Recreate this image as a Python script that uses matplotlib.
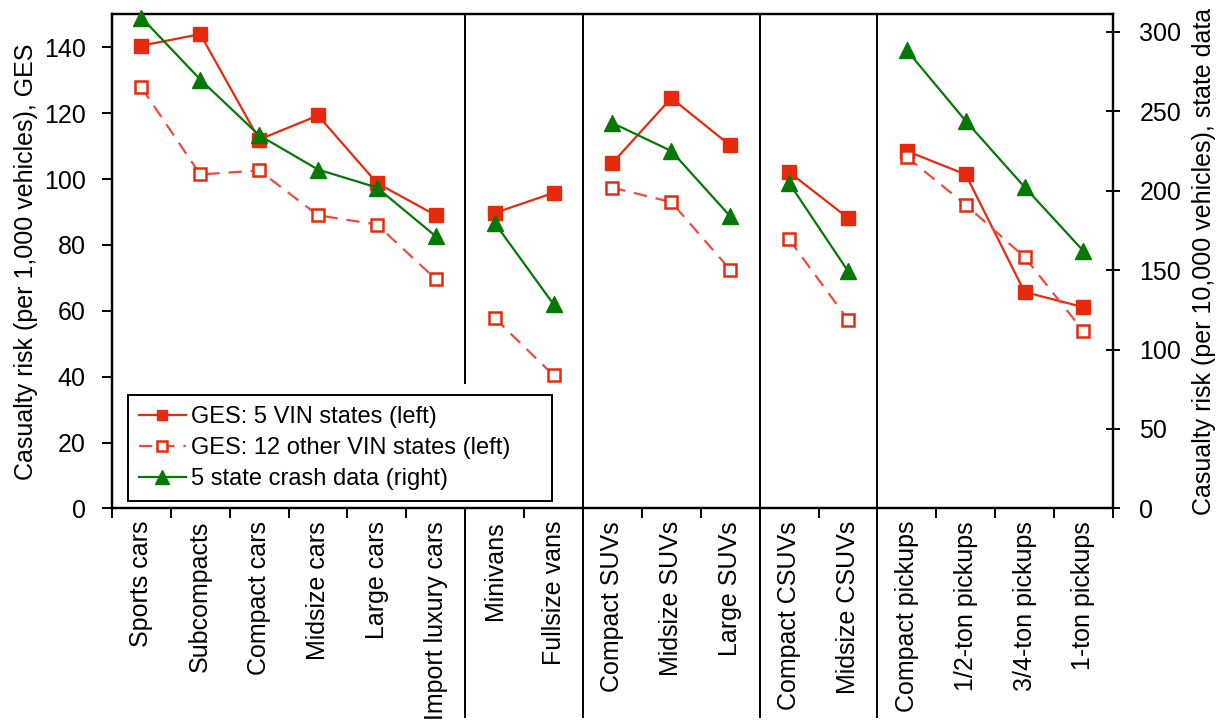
import numpy as np
from matplotlib import pyplot as plt

plt.rcParams['font.family'] = ['Liberation Sans', 'DejaVu Sans']

categories = ["Sports cars", "Subcompacts", "Compact cars", "Midsize cars", "Large cars",
              "Import luxury cars", "Minivans", "Fullsize vans", "Compact SUVs", "Midsize SUVs",
              "Large SUVs", "Compact CSUVs", "Midsize CSUVs", "Compact pickups",
              "1/2-ton pickups", "3/4-ton pickups", "1-ton pickups"]

# groups: cars, vans, SUVs, CSUVs, pickups
group_sizes = [6, 2, 3, 2, 4]

ges_5vin = [140.5, 144, 112, 119.3, 98.8, 89, 89.7, 95.8, 104.9, 124.6, 110.2,
            102.1, 88.2, 108.5, 101.4, 65.7, 61.1]
ges_12other = [127.8, 101.4, 102.6, 89, 86.2, 69.6, 57.8, 40.4, 97.4, 93, 72.5,
               81.7, 57.3, 106.7, 92.2, 76.3, 53.8]
state_crash = [309, 270, 234.9, 213.3, 202, 171.3, 179.7, 128.5, 242.6, 225, 183.9,
               204.9, 149.4, 288.4, 243.9, 202.3, 162]

red = '#e62a0d'
red_light = '#ef4b3d'
green = '#067806'
fs = 18

fig = plt.figure(figsize=(12.25, 7.26), dpi=100)
ax = fig.add_axes([0.0914, 0.2997, 0.8171, 0.6805])
ax2 = ax.twinx()

x = np.arange(len(categories))

# plot each group separately so lines break between groups
start = 0
for gi, n in enumerate(group_sizes):
    sl = slice(start, start + n)
    ax.plot(x[sl], ges_5vin[sl], color=red, lw=1.6, marker='s', ms=9.5,
            label='GES: 5 VIN states (left)' if gi == 0 else None, zorder=3)
    ax.plot(x[sl], ges_12other[sl], color=red_light, lw=1.6, ls=(0, (6, 4)), marker='s', ms=8.5,
            mfc='white', mec=red, mew=1.8,
            label='GES: 12 other VIN states (left)' if gi == 0 else None, zorder=3)
    ax2.plot(x[sl], state_crash[sl], color=green, lw=1.6, marker='^', ms=12,
             clip_on=False, zorder=3)
    start += n

# proxy for legend
ax.plot([], [], color=green, lw=1.6, marker='^', ms=12, label='5 state crash data (right)')

ax.set_xlim(-0.5, len(categories) - 0.5)
ax.set_ylim(0, 150)
ax2.set_ylim(0, 311)
ax.set_yticks(np.arange(0, 141, 20))
ax2.set_yticks(np.arange(0, 301, 50))

ax.set_xticks(x)
ax.set_xticklabels(categories, rotation=90, fontsize=fs)
ax.tick_params(axis='x', which='major', length=0, pad=9)
ax.set_xticks(np.arange(-0.5, len(categories), 1), minor=True)
ax.tick_params(axis='x', which='minor', length=7, width=1.4, direction='out')
ax.tick_params(axis='y', labelsize=fs, length=7, width=1.4, direction='out', pad=12)
ax2.tick_params(axis='y', labelsize=fs, length=10, width=1.4, direction='inout', pad=14)

ax.set_ylabel('Casualty risk (per 1,000 vehicles), GES', fontsize=fs, labelpad=4)
ax2.set_ylabel('Casualty risk (per 10,000 vehicles), state data', fontsize=fs, labelpad=8)

for a in (ax, ax2):
    for s in a.spines.values():
        s.set_linewidth(1.6)

# group separators, extending down through the tick labels
bounds = np.cumsum(group_sizes)[:-1] - 0.5
for i, b in enumerate(bounds):
    ax.plot([b, b], [-0.423, 0.0], transform=ax.get_xaxis_transform(), color='black',
            lw=1.4, clip_on=False)
    y_top_start = 0.254 if i == 0 else 0.0
    ax.plot([b, b], [y_top_start, 1.0], transform=ax.get_xaxis_transform(), color='black',
            lw=1.4, clip_on=False)

leg = ax.legend(loc='lower left', bbox_to_anchor=(0.016, 0.016, 0.424, 0.2), mode='expand',
                fontsize=17, fancybox=False, framealpha=1, edgecolor='black',
                handlelength=2.0, borderpad=0.45, labelspacing=0.38, handletextpad=0.2,
                borderaxespad=0, markerscale=0.8)
leg.get_frame().set_linewidth(1.4)
leg.set_zorder(5)

fig.savefig('out.png', dpi=100)
